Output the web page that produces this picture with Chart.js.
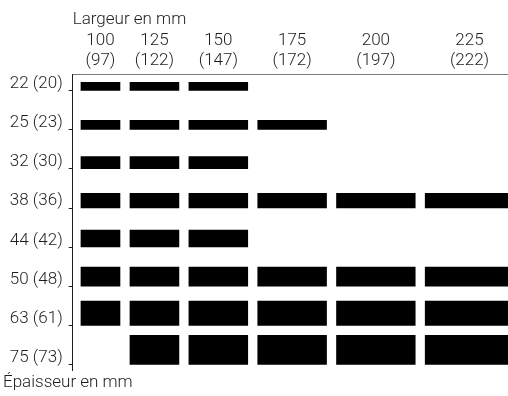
<!DOCTYPE html>
<html>
<head>
<meta charset="utf-8">
<script src="https://cdn.jsdelivr.net/npm/chart.js"></script>
<style>
  html, body { margin: 0; padding: 0; background: #fff; }
  #wrap { width: 508px; height: 396px; }
</style>
</head>
<body>
<div id="wrap"><canvas id="sizes"></canvas></div>
<script>
// nominal sizes in mm, finished size in brackets
const widths = [100, 125, 150, 175, 200, 225];
const widthsActual = [97, 122, 147, 172, 197, 222];
const thicknesses = [22, 25, 32, 38, 44, 50, 63, 75];
const thicknessesActual = [20, 23, 30, 36, 42, 48, 61, 73];

// 1 = section exists (row = thickness, column = width)
const available = [
    [1, 1, 1, 0, 0, 0],
    [1, 1, 1, 1, 0, 0],
    [1, 1, 1, 0, 0, 0],
    [1, 1, 1, 1, 1, 1],
    [1, 1, 1, 0, 0, 0],
    [1, 1, 1, 1, 1, 1],
    [1, 1, 1, 1, 1, 1],
    [0, 1, 1, 1, 1, 1]
];

// drawing space is in mm, both axes share the same scale
const X_START = 20;
const X_GAP = 23.5;
const ROW_FIRST = 42;
const ROW_PITCH = 98.7;
const X_MAX = 1097;
const Y_MAX = 746;

const FONT = "Roboto, 'Liberation Sans', sans-serif";
const INK = '#1e1e1e';

const colStart = [];
let pos = X_START;
for (let j = 0; j < widths.length; j++) {
    colStart.push(pos);
    pos += widths[j] + X_GAP;
}
const colCenter = colStart.map((x, j) => x + widths[j] / 2);
const rowBase = thicknesses.map((t, i) => ROW_FIRST + i * ROW_PITCH);

const datasets = [];
for (let i = 0; i < thicknesses.length; i++) {
    for (let j = 0; j < widths.length; j++) {
        if (!available[i][j]) continue;
        const x0 = colStart[j], x1 = x0 + widths[j];
        const y1 = rowBase[i], y0 = y1 - thicknesses[i];
        datasets.push({
            data: [{x: x0, y: y0}, {x: x1, y: y0}, {x: x1, y: y1}, {x: x0, y: y1}],
            showLine: true,
            fill: 'shape',
            backgroundColor: '#000',
            borderColor: 'rgba(0,0,0,0)',
            borderWidth: 0,
            pointRadius: 0,
            pointHoverRadius: 0
        });
    }
}

new Chart(document.getElementById('sizes'), {
    type: 'scatter',
    data: { datasets: datasets },
    options: {
        responsive: true,
        maintainAspectRatio: false,
        animation: false,
        events: [],
        layout: { padding: { left: 3 } },
        plugins: {
            legend: { display: false },
            tooltip: { enabled: false },
            title: {
                display: true,
                position: 'bottom',
                align: 'start',
                text: 'Épaisseur en mm',
                color: INK,
                font: { family: FONT, size: 17, weight: '300' },
                padding: { top: 3, bottom: 2.6 }
            }
        },
        scales: {
            x: {
                type: 'linear',
                position: 'top',
                min: 0,
                max: X_MAX,
                afterBuildTicks: (scale) => {
                    scale.ticks = colCenter.map(v => ({ value: v }));
                },
                afterFit: (scale) => { scale.height = 74; },
                ticks: {
                    color: INK,
                    padding: 3,
                    maxRotation: 0,
                    autoSkip: false,
                    font: { family: FONT, size: 17, weight: '300', lineHeight: 1.2 },
                    callback: (v, i) => [String(widths[i]), '(' + widthsActual[i] + ')']
                },
                grid: { drawOnChartArea: false, drawTicks: false },
                border: { color: '#7a7a7a', width: 1 },
                title: {
                    display: true,
                    text: 'Largeur en mm',
                    align: 'start',
                    color: INK,
                    font: { family: FONT, size: 17, weight: '300' },
                    padding: { top: 10, bottom: 0 }
                }
            },
            y: {
                type: 'linear',
                reverse: true,
                min: 0,
                max: Y_MAX,
                afterBuildTicks: (scale) => {
                    scale.ticks = rowBase.map(v => ({ value: v }));
                },
                afterFit: (scale) => { scale.width = 69.7; },
                ticks: {
                    color: INK,
                    padding: 6,
                    labelOffset: -7,
                    autoSkip: false,
                    font: { family: FONT, size: 17, weight: '300' },
                    callback: (v, i) => thicknesses[i] + ' (' + thicknessesActual[i] + ')'
                },
                grid: { drawOnChartArea: false, drawTicks: true, tickLength: 4, color: INK },
                border: { color: INK, width: 1 }
            }
        }
    }
});
</script>
</body>
</html>
